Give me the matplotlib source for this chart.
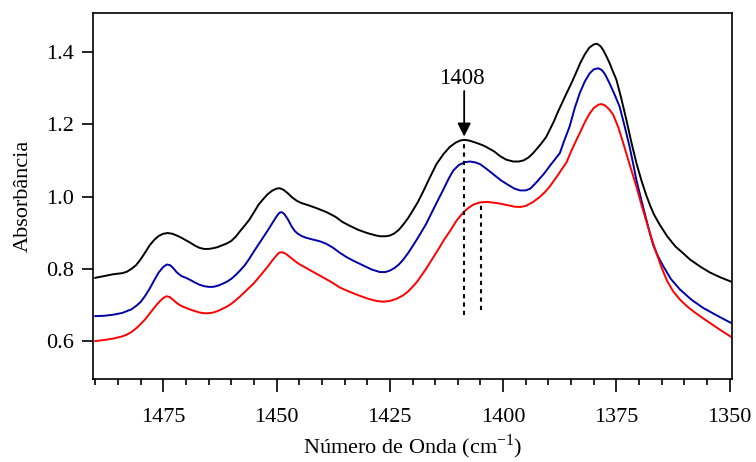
import matplotlib
matplotlib.use("Agg")
import matplotlib.pyplot as plt
from matplotlib.ticker import MultipleLocator

plt.rcParams['font.family'] = ['Liberation Serif', 'DejaVu Serif']

# Black spectrum
wn_black = [1490, 1488, 1486, 1484, 1483, 1482, 1481, 1480, 1479, 1478, 1477, 1476, 1475, 1474,
            1473, 1472, 1471, 1470, 1469, 1468, 1467, 1466, 1465, 1464, 1463, 1462, 1461, 1460,
            1459, 1458, 1457, 1456, 1455, 1454, 1453, 1452, 1451, 1450, 1449.3, 1448.5, 1447.5,
            1446.5, 1445.5, 1444.5, 1443, 1441.2, 1439, 1437, 1435.5, 1434, 1432, 1430, 1428,
            1427, 1426, 1425, 1424, 1423, 1422, 1421, 1420, 1418.8, 1417.6, 1416.2, 1414.7,
            1413.2, 1411.8, 1410.5, 1409.5, 1408.6, 1407.5, 1406, 1404.5, 1403.7, 1402, 1400.7,
            1399.3, 1397.8, 1396.5, 1395.5, 1394.4, 1393.4, 1392.5, 1391.5, 1390.5, 1389.7,
            1388.8, 1388, 1387, 1386, 1385, 1384, 1383, 1382, 1381, 1380, 1379.3, 1378.5, 1377.9,
            1377.2, 1376.5, 1375.8, 1375, 1374, 1372.8, 1371.7, 1370.6, 1369.5, 1368.4, 1367.5,
            1366.7, 1365.4, 1363.8, 1362, 1360, 1358.8, 1356.5, 1354.4, 1352, 1350, 1349.6]
ab_black = [0.775, 0.780, 0.785, 0.788, 0.792, 0.800, 0.810, 0.826, 0.845, 0.865, 0.880, 0.891,
            0.897, 0.899, 0.897, 0.892, 0.886, 0.879, 0.872, 0.864, 0.858, 0.855, 0.855, 0.857,
            0.860, 0.865, 0.870, 0.877, 0.889, 0.905, 0.920, 0.936, 0.956, 0.977, 0.992, 1.006,
            1.016, 1.022, 1.023, 1.019, 1.009, 0.997, 0.988, 0.982, 0.976, 0.968, 0.957, 0.944,
            0.930, 0.920, 0.908, 0.899, 0.892, 0.890, 0.890, 0.892, 0.898, 0.908, 0.923, 0.940,
            0.960, 0.985, 1.015, 1.052, 1.090, 1.117, 1.137, 1.149, 1.155, 1.157, 1.155, 1.149,
            1.142, 1.137, 1.125, 1.112, 1.102, 1.097, 1.097, 1.100, 1.108, 1.120, 1.133, 1.148,
            1.165, 1.185, 1.208, 1.232, 1.259, 1.286, 1.312, 1.340, 1.369, 1.393, 1.412, 1.421,
            1.423, 1.416, 1.405, 1.388, 1.369, 1.347, 1.323, 1.275, 1.212, 1.150, 1.093, 1.045,
            1.003, 0.973, 0.950, 0.921, 0.890, 0.862, 0.840, 0.826, 0.806, 0.790, 0.776, 0.766,
            0.764]

# Blue spectrum
wn_blue = [1490, 1488, 1486, 1484, 1482, 1481, 1480, 1479, 1478, 1477, 1476, 1475, 1474.2,
           1473.5, 1472.8, 1472, 1471, 1470, 1469, 1468, 1467, 1466, 1465, 1464, 1463, 1462,
           1461, 1460, 1459, 1458, 1457, 1456, 1455, 1454, 1453, 1452, 1451, 1450, 1449.4,
           1448.9, 1448.3, 1447.5, 1446.7, 1446, 1445.3, 1444.5, 1443.5, 1442, 1440.4, 1439,
           1437.5, 1436, 1434.5, 1433, 1431, 1429, 1427.2, 1426, 1425, 1424, 1423, 1422, 1421,
           1420, 1419, 1418, 1417, 1415.5, 1414.3, 1413.2, 1412, 1411, 1409.8, 1408.5, 1407.3,
           1406, 1405, 1403.5, 1402.2, 1400.5, 1399, 1397.5, 1396.3, 1395, 1394, 1392.6, 1391,
           1389.5, 1387.5, 1386.5, 1385.3, 1384.2, 1383.1, 1382, 1380.9, 1380, 1379, 1378.2,
           1377.5, 1376.5, 1375.5, 1374.3, 1373.2, 1372.1, 1371.3, 1370.6, 1369.5, 1368.4,
           1367.6, 1366.9, 1365.8, 1364.7, 1363, 1361, 1358.5, 1355.9, 1353, 1350, 1349.6]
ab_blue = [0.669, 0.670, 0.673, 0.678, 0.688, 0.697, 0.708, 0.725, 0.745, 0.768, 0.790, 0.805,
           0.812, 0.810, 0.802, 0.790, 0.780, 0.775, 0.769, 0.762, 0.756, 0.752, 0.750, 0.750,
           0.753, 0.758, 0.764, 0.772, 0.783, 0.796, 0.810, 0.828, 0.848, 0.867, 0.886, 0.905,
           0.925, 0.945, 0.955, 0.957, 0.952, 0.937, 0.918, 0.905, 0.897, 0.891, 0.886, 0.881,
           0.876, 0.869, 0.858, 0.844, 0.832, 0.822, 0.810, 0.798, 0.791, 0.791, 0.795, 0.802,
           0.812, 0.826, 0.843, 0.862, 0.882, 0.903, 0.924, 0.962, 0.992, 1.019, 1.050, 1.072,
           1.087, 1.095, 1.097, 1.094, 1.089, 1.075, 1.062, 1.045, 1.033, 1.022, 1.017, 1.017,
           1.022, 1.040, 1.063, 1.088, 1.120, 1.155, 1.195, 1.245, 1.286, 1.318, 1.341, 1.352,
           1.355, 1.350, 1.338, 1.313, 1.285, 1.249, 1.195, 1.138, 1.090, 1.046, 0.990, 0.936,
           0.897, 0.866, 0.834, 0.808, 0.772, 0.743, 0.715, 0.692, 0.672, 0.652, 0.650]

# Red spectrum
wn_red = [1490, 1488, 1486, 1484, 1483, 1482, 1481, 1480, 1479, 1478, 1477, 1476, 1475, 1474.3,
          1473.6, 1472.8, 1472, 1471, 1470, 1469, 1468, 1467, 1466, 1465, 1464, 1463, 1462,
          1461, 1460, 1459, 1458, 1457, 1456, 1455, 1454, 1453, 1452, 1451, 1450, 1449.4,
          1448.8, 1448, 1447, 1446, 1445, 1444, 1442, 1440, 1438, 1436, 1434, 1432, 1430, 1428,
          1426.5, 1425, 1423.5, 1422, 1421, 1420, 1419, 1418, 1417, 1416, 1415, 1414, 1413,
          1411.7, 1410.3, 1408.8, 1407.5, 1406.5, 1405, 1403.5, 1402, 1400.5, 1399, 1397.5,
          1396.3, 1395, 1393.5, 1392, 1390.8, 1389.7, 1388, 1386, 1385, 1384, 1383, 1382, 1381,
          1380, 1379, 1378.3, 1377.5, 1376.5, 1375.7, 1374.6, 1373.5, 1372, 1370.6, 1369.5,
          1368.4, 1367.3, 1366.2, 1365, 1363.8, 1362.5, 1361, 1359.5, 1358, 1356, 1354, 1352,
          1350, 1349.6]
ab_red = [0.600, 0.603, 0.607, 0.613, 0.618, 0.625, 0.635, 0.647, 0.660, 0.676, 0.692, 0.707,
          0.719, 0.724, 0.722, 0.714, 0.705, 0.697, 0.692, 0.687, 0.683, 0.679, 0.677, 0.677,
          0.679, 0.683, 0.689, 0.695, 0.703, 0.713, 0.724, 0.736, 0.748, 0.760, 0.775, 0.790,
          0.805, 0.822, 0.837, 0.845, 0.846, 0.842, 0.832, 0.822, 0.813, 0.806, 0.792, 0.778,
          0.764, 0.748, 0.737, 0.727, 0.718, 0.711, 0.709, 0.711, 0.717, 0.727, 0.737, 0.750,
          0.764, 0.782, 0.800, 0.820, 0.840, 0.860, 0.881, 0.905, 0.933, 0.956, 0.970, 0.978,
          0.984, 0.985, 0.983, 0.980, 0.976, 0.972, 0.971, 0.974, 0.984, 0.998, 1.012, 1.028,
          1.058, 1.095, 1.125, 1.152, 1.178, 1.205, 1.228, 1.245, 1.254, 1.256, 1.252, 1.240,
          1.226, 1.192, 1.148, 1.085, 1.028, 0.978, 0.932, 0.886, 0.844, 0.802, 0.766, 0.738,
          0.715, 0.697, 0.682, 0.664, 0.647, 0.630, 0.614, 0.611]

# Marked positions (dotted guide lines)
guide_x = [1408.6, 1404.9]
guide_top = [1.157, 0.984]
guide_bottom = [0.673, 0.687]
peak_label = "1408"

fig = plt.figure(figsize=(7.56, 4.62), dpi=100)
ax = fig.add_axes([93/756, 1 - 379/462, (732 - 93)/756, (379 - 13)/462])

lw = 1.4
ax.plot(wn_black, ab_black, color='black', lw=lw, solid_joinstyle='round')
ax.plot(wn_blue, ab_blue, color='#0000a8', lw=lw, solid_joinstyle='round')
ax.plot(wn_red, ab_red, color='#ff0000', lw=lw, solid_joinstyle='round')

for gx, gt, gb in zip(guide_x, guide_top, guide_bottom):
    ax.plot([gx, gx], [gb, gt], color='black', lw=1.5, linestyle=(0, (2, 2)))

ax.text(1409.1, 1.328, peak_label, ha='center', va='center', fontsize=16.5)
ax.annotate('', xy=(guide_x[0], 1.166), xytext=(guide_x[0], 1.292),
            arrowprops=dict(arrowstyle='-|>', color='black', lw=1.3,
                            mutation_scale=20, shrinkA=0, shrinkB=0))

ax.set_xlim(1490.5, 1349.5)
ax.set_ylim(0.495, 1.508)

ax.xaxis.set_major_locator(MultipleLocator(25))
ax.xaxis.set_minor_locator(MultipleLocator(5))
ax.set_yticks([0.6, 0.8, 1.0, 1.2, 1.4])
ax.set_yticklabels(['0.6', '0.8', '1.0', '1.2', '1.4'])

for s in ax.spines.values():
    s.set_linewidth(1.2)

ax.tick_params(axis='x', which='major', direction='out', length=9, width=1.2,
               labelsize=16, pad=12)
ax.tick_params(axis='x', which='minor', direction='out', length=4.5, width=1.2)
ax.tick_params(axis='y', which='major', direction='out', length=8, width=1.2,
               labelsize=16, pad=6)

ax.set_xlabel('Número de Onda (cm$^{\\mathregular{-1}}$)', fontsize=16, labelpad=4)
ax.set_ylabel('Absorbância', fontsize=16, labelpad=9)

fig.savefig('out.png', dpi=100)
